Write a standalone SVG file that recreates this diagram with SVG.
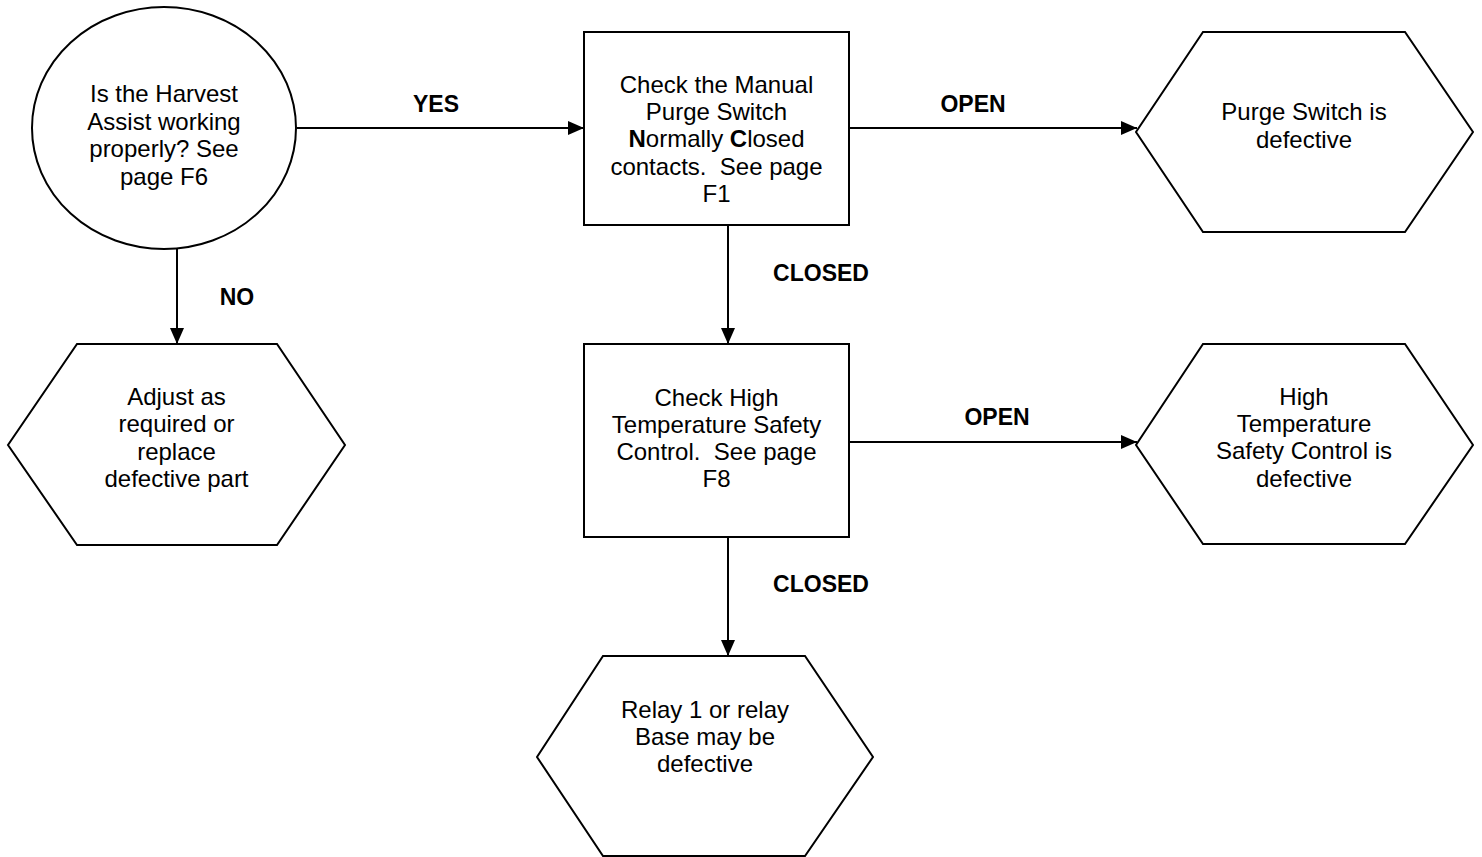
<svg xmlns="http://www.w3.org/2000/svg" width="1482" height="857" viewBox="0 0 1482 857">
<defs>
<style>
.shape{fill:#fff;stroke:#000;stroke-width:2}
.t{font-family:"Liberation Sans",Arial,sans-serif;font-size:24px;fill:#000;text-anchor:middle;white-space:pre}
.lbl{font-family:"Liberation Sans",Arial,sans-serif;font-size:23px;font-weight:bold;fill:#000;text-anchor:middle}
.c{fill:none;stroke:#000;stroke-width:2}
</style>
<marker id="ah" markerWidth="16" markerHeight="14" refX="16" refY="7" orient="auto" markerUnits="userSpaceOnUse">
<path d="M0,0 L16,7 L0,14 Z" fill="#000"/>
</marker>
</defs>
<rect width="1482" height="857" fill="#fff"/>
<g id="connectors">
<line class="c" x1="297" y1="128" x2="584" y2="128" marker-end="url(#ah)"/>
<line class="c" x1="849" y1="128" x2="1137" y2="128" marker-end="url(#ah)"/>
<line class="c" x1="849" y1="442" x2="1137" y2="442" marker-end="url(#ah)"/>
<line class="c" x1="728" y1="225" x2="728" y2="344" marker-end="url(#ah)"/>
<line class="c" x1="728" y1="537" x2="728" y2="656" marker-end="url(#ah)"/>
<line class="c" x1="177" y1="249" x2="177" y2="344" marker-end="url(#ah)"/>
<text class="lbl" x="436" y="112">YES</text>
<text class="lbl" x="973" y="112">OPEN</text>
<text class="lbl" x="997" y="425">OPEN</text>
<text class="lbl" x="821" y="281">CLOSED</text>
<text class="lbl" x="821" y="592">CLOSED</text>
<text class="lbl" x="237" y="305">NO</text>
</g>
<g id="start">
<ellipse class="shape" cx="164" cy="128" rx="132" ry="121"/>
<text class="t" x="164" y="102">Is the Harvest</text>
<text class="t" x="164" y="129.6">Assist working</text>
<text class="t" x="164" y="157.2">properly? See</text>
<text class="t" x="164" y="184.8">page F6</text>
</g>
<g id="check-purge">
<rect class="shape" x="584" y="32" width="265" height="193"/>
<text class="t" x="716.5" y="93">Check the Manual</text>
<text class="t" x="716.5" y="120.2">Purge Switch</text>
<text class="t" x="716.5" y="147.4"><tspan font-weight="bold">N</tspan>ormally <tspan font-weight="bold">C</tspan>losed</text>
<text class="t" x="716.5" y="174.6">contacts.&#160; See page</text>
<text class="t" x="716.5" y="201.8">F1</text>
</g>
<g id="purge-defective">
<polygon class="shape" points="1203,32 1405,32 1473,132 1405,232 1203,232 1136,132"/>
<text class="t" x="1304" y="120">Purge Switch is</text>
<text class="t" x="1304" y="148">defective</text>
</g>
<g id="adjust">
<polygon class="shape" points="77,344 277,344 345,445 277,545 77,545 8,445"/>
<text class="t" x="176.5" y="405">Adjust as</text>
<text class="t" x="176.5" y="432.3">required or</text>
<text class="t" x="176.5" y="459.6">replace</text>
<text class="t" x="176.5" y="487">defective part</text>
</g>
<g id="check-high-temp">
<rect class="shape" x="584" y="344" width="265" height="193"/>
<text class="t" x="716.5" y="405.5">Check High</text>
<text class="t" x="716.5" y="432.8">Temperature Safety</text>
<text class="t" x="716.5" y="460.1">Control.&#160; See page</text>
<text class="t" x="716.5" y="487.4">F8</text>
</g>
<g id="high-temp-defective">
<polygon class="shape" points="1203,344 1405,344 1473,445 1405,544 1203,544 1136,445"/>
<text class="t" x="1304" y="405">High</text>
<text class="t" x="1304" y="432.2">Temperature</text>
<text class="t" x="1304" y="459.4">Safety Control is</text>
<text class="t" x="1304" y="486.7">defective</text>
</g>
<g id="relay">
<polygon class="shape" points="603,656 805,656 873,757 805,856 603,856 537,757"/>
<text class="t" x="705" y="718">Relay 1 or relay</text>
<text class="t" x="705" y="745">Base may be</text>
<text class="t" x="705" y="772">defective</text>
</g>
</svg>
